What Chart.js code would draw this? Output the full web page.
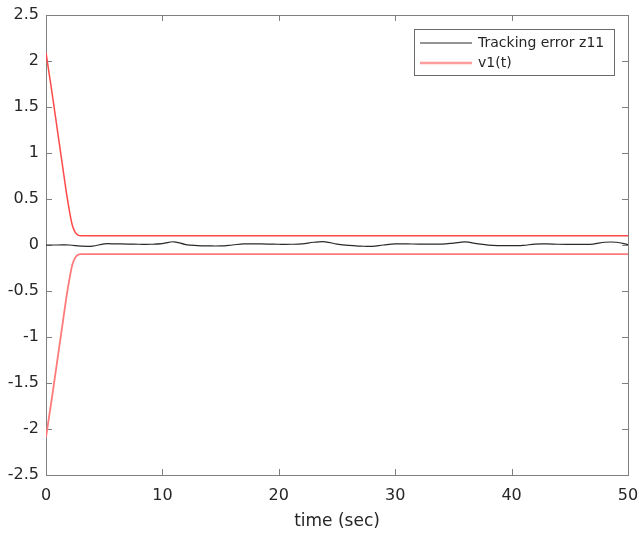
<!DOCTYPE html>
<html>
<head>
<meta charset="utf-8">
<script src="https://cdn.jsdelivr.net/npm/chart.js@4.4.1/dist/chart.umd.min.js"></script>
<style>
html, body { margin: 0; padding: 0; background: #fff; }
#wrap { width: 639px; height: 535px; }
</style>
</head>
<body>
<div id="wrap"><canvas id="chart" width="639" height="535"></canvas></div>
<script>
// tick labels
const xTicks = [0, 10, 20, 30, 40, 50];
const yTicks = [-2.5, -2, -1.5, -1, -0.5, 0, 0.5, 1, 1.5, 2, 2.5];

// v1(t) bounds
const boundTime  = [0, 0.25, 0.5, 0.75, 1, 1.25, 1.5, 1.75, 2, 2.25, 2.5, 2.75, 3, 50];
const boundUpper = [2.09, 1.88, 1.67, 1.45, 1.23, 1.01, 0.79, 0.57, 0.38, 0.22, 0.14, 0.107, 0.1, 0.1];
const boundLower = [-2.09, -1.88, -1.67, -1.45, -1.23, -1.01, -0.79, -0.57, -0.38, -0.22, -0.14, -0.107, -0.1, -0.1];

// tracking error z11
const errTime = [0, 1, 2, 3, 4, 5, 6, 7, 8, 9, 10, 11, 12, 13, 14, 15, 16, 17, 18, 19, 20,
  21, 22, 23, 24, 25, 26, 27, 28, 29, 30, 31, 32, 33, 34, 35, 36, 37, 38, 39, 40,
  41, 42, 43, 44, 45, 46, 47, 48, 49, 50];
const errValues = [0, 0, 0, -0.012, -0.012, 0.012, 0.012, 0.01, 0.008, 0.008, 0.015,
  0.035, 0.005, -0.006, -0.01, -0.01, 0, 0.012, 0.012, 0.01, 0.008,
  0.008, 0.012, 0.03, 0.035, 0.01, -0.005, -0.012, -0.015, 0, 0.012,
  0.012, 0.01, 0.01, 0.01, 0.02, 0.033, 0.015, -0.002, -0.007, -0.007,
  -0.005, 0.01, 0.012, 0.008, 0.007, 0.007, 0.01, 0.03, 0.03, 0.005];

const seriesNames = ['Tracking error z11', 'v1(t)'];

const textColor = '#262626';
const axisColor = '#808080';
const redColor = '#ff4a4a';
const fontFamily = '"DejaVu Sans", sans-serif';

const toPoints = (xs, ys) => xs.map((x, i) => ({ x: x, y: ys[i] }));

// MATLAB style box, inward ticks and legend
const matlabAxes = {
	id: 'matlabAxes',
	beforeDatasetsDraw(chart) {
		let ctx = chart.ctx;
		let area = chart.chartArea;
		let xs = chart.scales.x;
		let ys = chart.scales.y;
		let len = 6;
		ctx.save();
		ctx.strokeStyle = axisColor;
		ctx.lineWidth = 1;
		ctx.strokeRect(Math.round(area.left) + 0.5, Math.round(area.top) + 0.5,
			Math.round(area.right - area.left), Math.round(area.bottom - area.top));
		ctx.beginPath();
		xTicks.forEach(v => {
			let px = Math.round(xs.getPixelForValue(v)) + 0.5;
			ctx.moveTo(px, area.bottom); ctx.lineTo(px, area.bottom - len);
			ctx.moveTo(px, area.top); ctx.lineTo(px, area.top + len);
		});
		yTicks.forEach(v => {
			let py = Math.round(ys.getPixelForValue(v)) + 0.5;
			ctx.moveTo(area.left, py); ctx.lineTo(area.left + len, py);
			ctx.moveTo(area.right, py); ctx.lineTo(area.right - len, py);
		});
		ctx.stroke();
		ctx.restore();
	},
	afterDraw(chart) {
		let ctx = chart.ctx;
		let sets = chart.data.datasets.filter(d => d.label);
		let bx = 414.5, by = 29.5, bw = 200, bh = 46;
		ctx.save();
		ctx.fillStyle = '#fff';
		ctx.fillRect(bx, by, bw, bh);
		ctx.strokeStyle = '#6a6a6a';
		ctx.lineWidth = 1;
		ctx.strokeRect(bx, by, bw, bh);
		ctx.font = '14px ' + fontFamily;
		ctx.textBaseline = 'middle';
		ctx.fillStyle = textColor;
		sets.forEach((d, i) => {
			let y = 43 + i * 20;
			ctx.strokeStyle = d.legendColor;
			ctx.lineWidth = d.legendWidth;
			ctx.beginPath();
			ctx.moveTo(420, y);
			ctx.lineTo(472, y);
			ctx.stroke();
			ctx.fillText(d.label, 478, y);
		});
		ctx.restore();
	}
};

new Chart(document.getElementById('chart'), {
	type: 'line',
	data: {
		datasets: [
			{
				label: seriesNames[0],
				data: toPoints(errTime, errValues),
				borderColor: '#2a2a2a',
				borderWidth: 1.2,
				legendColor: '#2a2a2a',
				legendWidth: 1,
				tension: 0.4,
				pointRadius: 0,
			},
			{
				label: seriesNames[1],
				data: toPoints(boundTime, boundUpper),
				borderColor: redColor,
				borderWidth: 1.5,
				legendColor: '#ff9c9c',
				legendWidth: 2.5,
				tension: 0.2,
				pointRadius: 0,
			},
			{
				label: '',
				data: toPoints(boundTime, boundLower),
				borderColor: '#ff7a7a',
				borderWidth: 1.8,
				tension: 0.2,
				pointRadius: 0,
			},
		],
	},
	options: {
		responsive: false,
		animation: false,
		devicePixelRatio: 1,
		layout: { padding: { top: 15, right: 11, left: 0, bottom: 0 } },
		plugins: {
			legend: { display: false },
			tooltip: { enabled: false },
		},
		scales: {
			x: {
				type: 'linear',
				min: 0,
				max: 50,
				grid: { display: false, drawTicks: false },
				border: { display: false },
				afterBuildTicks: s => { s.ticks = xTicks.map(v => ({ value: v })); },
				afterFit: s => { s.height = 60; s.paddingLeft = 0; s.paddingRight = 0; },
				ticks: {
					padding: 11,
					color: textColor,
					font: { family: fontFamily, size: 16 },
					maxRotation: 0,
					callback: v => String(v),
				},
				title: {
					display: true,
					text: 'time (sec)',
					color: textColor,
					font: { family: fontFamily, size: 17 },
					padding: { top: 0, bottom: 3 },
				},
			},
			y: {
				type: 'linear',
				min: -2.5,
				max: 2.5,
				grid: { display: false, drawTicks: false },
				border: { display: false },
				afterBuildTicks: s => { s.ticks = yTicks.map(v => ({ value: v })); },
				afterFit: s => { s.width = 46; s.paddingTop = 0; s.paddingBottom = 0; },
				ticks: {
					padding: 7,
					color: textColor,
					font: { family: fontFamily, size: 16 },
					callback: v => String(v),
				},
			},
		},
	},
	plugins: [matlabAxes],
});
</script>
</body>
</html>
